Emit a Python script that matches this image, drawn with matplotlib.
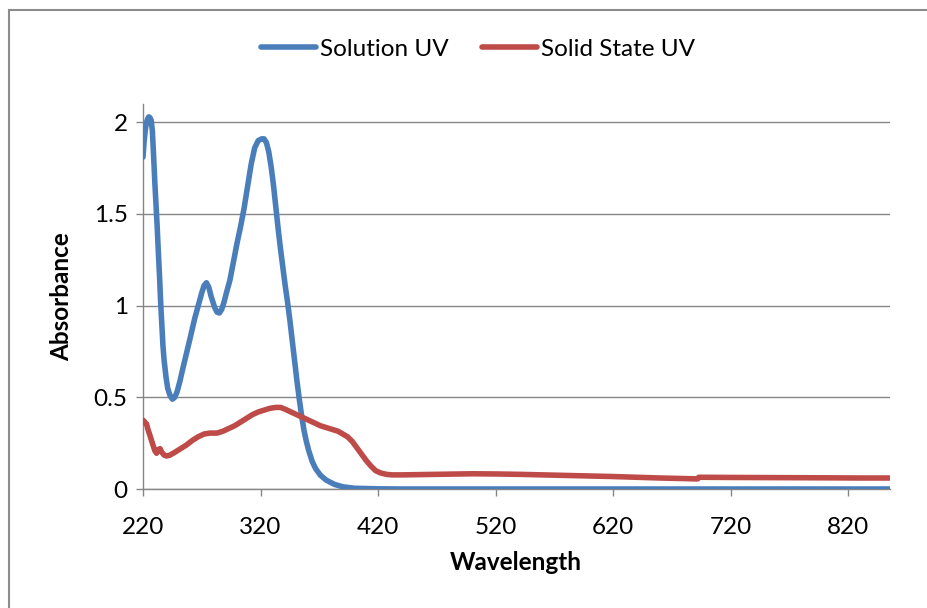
import matplotlib
matplotlib.use("Agg")
import matplotlib.pyplot as plt
from matplotlib.patches import Rectangle

plt.rcParams['font.family'] = ['Lato', 'DejaVu Sans']

# Solution UV spectrum (wavelength in nm, absorbance)
solution_nm = [220, 221, 222, 223, 224, 225, 226, 227, 228, 229, 230, 231, 232, 233,
               234, 235, 236, 237, 238, 239.6, 241, 243, 245, 247, 249, 251.5, 254,
               257, 260, 264, 267, 270, 272, 274, 276, 278, 281, 283, 285, 287, 289,
               291, 294, 297, 300, 303, 306, 309, 312, 315, 318, 321, 323, 325, 327,
               329, 331, 333, 335, 337, 339, 341, 343, 345, 347, 349, 351, 353, 355,
               357, 359, 361, 364, 367, 371, 376, 383, 390, 400, 420, 440, 500, 600,
               700, 800, 855]
solution_abs = [1.81, 1.90, 1.96, 2.00, 2.02, 2.03, 2.025, 2.01, 1.95, 1.82, 1.68, 1.56,
                1.44, 1.30, 1.17, 1.02, 0.90, 0.78, 0.70, 0.61, 0.55, 0.51, 0.49, 0.50,
                0.53, 0.59, 0.66, 0.74, 0.82, 0.93, 1.00, 1.07, 1.11, 1.125, 1.10, 1.05,
                0.99, 0.965, 0.96, 0.98, 1.02, 1.07, 1.14, 1.24, 1.34, 1.43, 1.53, 1.65,
                1.77, 1.86, 1.90, 1.91, 1.91, 1.89, 1.84, 1.76, 1.66, 1.54, 1.42, 1.31,
                1.21, 1.11, 1.02, 0.92, 0.81, 0.70, 0.59, 0.49, 0.40, 0.32, 0.26, 0.21,
                0.15, 0.11, 0.075, 0.048, 0.025, 0.012, 0.004, 0.001, 0.0, 0.0, 0.0,
                0.0, 0.0, 0.0]

# Solid state UV spectrum
solid_nm = [220, 221, 222, 223, 224, 226, 228, 230, 231.5, 233, 234.5, 236, 238, 240,
            243, 247, 252, 257, 262, 267, 272, 277, 283, 288, 293, 298, 303, 308, 313,
            318, 323, 328, 333, 337, 341, 346, 351, 356, 361, 366, 371, 376, 381, 386,
            390, 394, 398, 402, 406, 410, 414, 418, 422, 427, 432, 440, 460, 480, 500,
            520, 540, 560, 580, 600, 620, 640, 660, 680, 692, 693, 720, 760, 800, 830,
            855]
solid_abs = [0.375, 0.37, 0.36, 0.355, 0.33, 0.29, 0.25, 0.21, 0.195, 0.215, 0.22, 0.20,
             0.185, 0.18, 0.185, 0.20, 0.22, 0.24, 0.265, 0.285, 0.30, 0.305, 0.305,
             0.315, 0.33, 0.345, 0.365, 0.385, 0.405, 0.42, 0.43, 0.44, 0.445, 0.445,
             0.435, 0.42, 0.405, 0.39, 0.375, 0.36, 0.345, 0.335, 0.325, 0.315, 0.30,
             0.285, 0.26, 0.225, 0.19, 0.155, 0.125, 0.10, 0.088, 0.08, 0.077, 0.077,
             0.079, 0.081, 0.083, 0.082, 0.080, 0.077, 0.074, 0.071, 0.068, 0.064,
             0.060, 0.057, 0.055, 0.064, 0.063, 0.062, 0.061, 0.060, 0.060]

x_ticks = [220, 320, 420, 520, 620, 720, 820]
y_ticks = [0, 0.5, 1, 1.5, 2]
y_tick_labels = ["0", "0.5", "1", "1.5", "2"]

W, H = 927, 608
fig = plt.figure(figsize=(W / 100, H / 100), dpi=100)

# chart-area frame, continuing past the right and bottom edges
fig.patches.append(Rectangle((9 / W, -0.1), 1.2, 1 - 10 / H + 0.1,
                             transform=fig.transFigure, fill=False,
                             edgecolor="#8c8c8c", linewidth=1.5))

ax = fig.add_axes([143 / W, (H - 489) / H, (890 - 143) / W, (489 - 104) / H])

grid_col = "#868686"
blue = "#4A7EBB"
red = "#BE4B48"

ax.plot(solution_nm, solution_abs, color=blue, lw=4.0, solid_capstyle="round",
        solid_joinstyle="round", label="Solution UV", zorder=3)
ax.plot(solid_nm, solid_abs, color=red, lw=4.0, solid_capstyle="round",
        solid_joinstyle="round", label="Solid State UV", zorder=3)

ax.set_xlim(220, 855.7)
ax.set_ylim(0, 2.1)
ax.set_xticks(x_ticks)
ax.set_xticklabels([str(v) for v in x_ticks])
ax.set_yticks(y_ticks)
ax.set_yticklabels(y_tick_labels)

ax.yaxis.grid(True, color=grid_col, linewidth=1.0)
ax.set_axisbelow(True)
for s in ("top", "right"):
    ax.spines[s].set_visible(False)
for s in ("left", "bottom"):
    ax.spines[s].set_color(grid_col)
    ax.spines[s].set_linewidth(1.0)

ax.tick_params(axis="both", direction="out", length=5, width=1.0, color=grid_col,
               labelsize=17.5, labelcolor="black")
ax.tick_params(axis="x", pad=15)
ax.tick_params(axis="y", pad=6)

fig.text(62 / W, 1 - 297 / H, "Absorbance", rotation=90, fontsize=17.5,
         fontweight="bold", ha="center", va="center")
fig.text(516 / W, 1 - 563 / H, "Wavelength", fontsize=17.5, fontweight="bold",
         ha="center", va="center")

fig.legend(loc="center", bbox_to_anchor=(478 / W, 1 - 49 / H), ncol=2, frameon=False,
           fontsize=17.5, handlelength=2.26, handletextpad=0.16, columnspacing=1.4)

fig.savefig("out.png", dpi=100)
